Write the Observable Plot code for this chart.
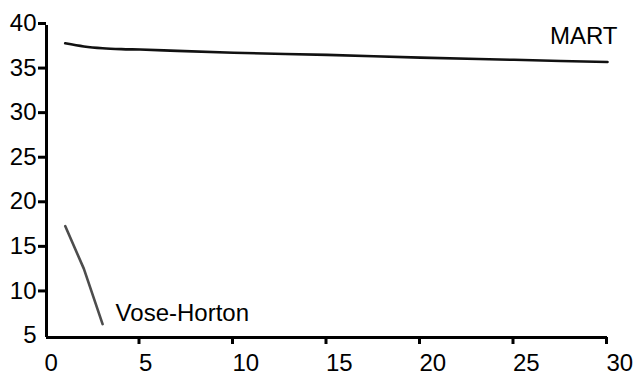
<!DOCTYPE html>
<html>
<head>
<meta charset="utf-8">
<script src="https://cdn.jsdelivr.net/npm/d3@7"></script>
<script src="https://cdn.jsdelivr.net/npm/@observablehq/plot@0.6"></script>
<style>
  html, body { margin: 0; padding: 0; background: #fff; }
  #chart svg { display: block; }
</style>
</head>
<body>
<div id="chart"></div>
<script>
// Series data
const martX = [1, 2, 3, 4, 5, 7, 10, 15, 20, 25, 30];
const martY = [38.0, 37.65, 37.45, 37.35, 37.3, 37.15, 36.95, 36.7, 36.4, 36.15, 35.9];
const voseX = [1, 2, 3];
const voseY = [17.5, 12.7, 6.5];
const seriesNames = ["MART", "Vose-Horton"];
const xTicks = [0, 5, 10, 15, 20, 25, 30];
const yTicks = [5, 10, 15, 20, 25, 30, 35, 40];

const mart = martX.map((x, i) => ({x, y: martY[i], s: seriesNames[0]}));
const vose = voseX.map((x, i) => ({x, y: voseY[i], s: seriesNames[1]}));

const font = "'Liberation Sans', Arial, sans-serif";
const fs = 24;

const chart = Plot.plot({
  width: 637,
  height: 375,
  marginLeft: 46,
  marginRight: 30,
  marginTop: 25,
  marginBottom: 38,
  style: {fontFamily: font, fontSize: fs + "px", color: "#000", background: "#fff", overflow: "visible"},
  x: {domain: [0, 30]},
  y: {domain: [5, 40]},
  marks: [
    Plot.axisY({ticks: yTicks.slice(1), tickSize: 8, strokeWidth: 3, tickPadding: 2, dy: -2, label: null, fontSize: fs}),
    Plot.axisY({ticks: yTicks.slice(0, 1), tickSize: 0, tickPadding: 10, dy: -2, label: null, fontSize: fs}),
    Plot.axisX({ticks: xTicks.slice(1), tickSize: 7, strokeWidth: 3, tickPadding: 9, textAnchor: "start", dx: -1, label: null, fontSize: fs}),
    Plot.axisX({ticks: xTicks.slice(0, 1), tickSize: 0, tickPadding: 16, textAnchor: "start", dx: -2, label: null, fontSize: fs}),
    Plot.ruleX([0], {strokeWidth: 3, stroke: "#000"}),
    Plot.ruleY([5], {strokeWidth: 3, stroke: "#000"}),
    Plot.line(mart, {x: "x", y: "y", stroke: "#111", strokeWidth: 2.6, curve: "monotone-x"}),
    Plot.line(vose, {x: "x", y: "y", stroke: "#4d4d4d", strokeWidth: 2.6}),
    Plot.text([mart[mart.length - 1]], {x: "x", y: "y", text: "s", textAnchor: "end", dx: 10, dy: -26, fontSize: fs, fill: "#000"}),
    Plot.text([vose[vose.length - 1]], {x: "x", y: "y", text: "s", textAnchor: "start", dx: 13, dy: -11, fontSize: fs, fill: "#000"})
  ]
});
document.getElementById("chart").appendChild(chart);
</script>
</body>
</html>
